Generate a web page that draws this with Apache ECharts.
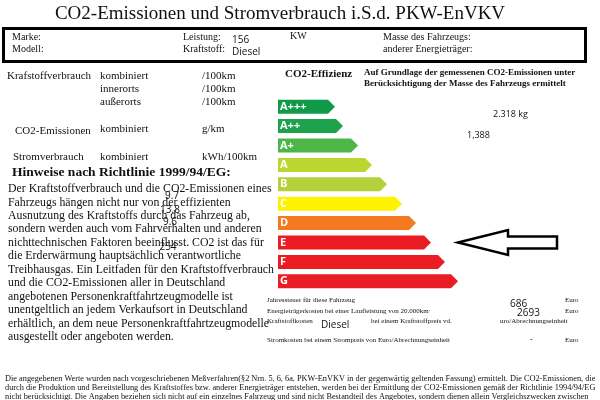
<!DOCTYPE html>
<html>
<head>
<meta charset="utf-8">
<script src="https://cdn.jsdelivr.net/npm/echarts@6/dist/echarts.min.js"></script>
<style>html,body{margin:0;padding:0;background:#fff}#c{width:600px;height:400px}</style>
</head>
<body>
<div id="c"></div>
<script>
// ---- data ----
const efficiencyClasses = ['A+++','A++','A+','A','B','C','D','E','F','G'];
const barLengths = [57, 65, 80, 94, 109, 124, 138, 153, 167, 180];
const vehicleClass = 'E';
const arrowSpan = [180, 279];
const fuelValues = ['9.7', '13.8', '9.6', '254'];
const leistung = '156';
const kraftstoff = 'Diesel';
const co2Mass = '2.318 kg';
const co2Value = '1,388';
const jahressteuer = '686';
const energiekosten = '2693';

const classColors = ['#11994a','#1fa24c','#4cb748','#bdd531','#b4d03a','#fff200','#f37a21','#ec1c24','#ec1c24','#ec1c24'];

const serif = '"Liberation Serif", "Times New Roman", serif';
const sans = '"Open Sans", "DejaVu Sans", sans-serif';

function t(x, y, text, size, opts) {
  opts = opts || {};
  const st = {
    text: text, x: 0, y: 0,
    font: (opts.bold ? 'bold ' : '') + size + 'px ' + (opts.family || serif),
    fill: opts.color || '#111',
    textAlign: opts.align || 'left',
    textVerticalAlign: opts.valign || 'middle'
  };
  if (opts.lineHeight) st.lineHeight = opts.lineHeight;
  if (opts.bg) { st.backgroundColor = opts.bg; st.padding = [0, 1]; }
  return {type: 'text', x: x, y: y, silent: true, z: opts.z || 10, style: st};
}

const hinweise = [
  'Der Kraftstoffverbrauch und die CO2-Emissionen eines',
  'Fahrzeugs hängen nicht nur von der effizienten',
  'Ausnutzung des Kraftstoffs durch das Fahrzeug ab,',
  'sondern werden auch vom Fahrverhalten und anderen',
  'nichttechnischen Faktoren beeinflusst. CO2 ist das für',
  'die Erderwärmung hauptsächlich verantwortliche',
  'Treibhausgas. Ein Leitfaden für den Kraftstoffverbrauch',
  'und die CO2-Emissionen aller in Deutschland',
  'angebotenen Personenkraftfahrtzeugmodelle ist',
  'unentgeltlich an jedem Verkaufsort in Deutschland',
  'erhältlich, an dem neue Personenkraftfahrtzeugmodelle',
  'ausgestellt oder angeboten werden.'
];

const footnote = [
  'Die angegebenen Werte wurden nach vorgeschriebenen Meßverfahren(§2 Nrn. 5, 6, 6a, PKW-EnVKV in der gegenwärtig geltenden Fassung) ermittelt. Die CO2-Emissionen, die',
  'durch die Produktion und Bereitstellung des Kraftstoffes bzw. anderer Energieträger entstehen, werden bei der Ermittlung der CO2-Emissionen gemäß der Richtlinie 1994/94/EG',
  'nicht berücksichtigt. Die Angaben beziehen sich nicht auf ein einzelnes Fahrzeug und sind nicht Bestandteil des Angebotes, sondern dienen allein Vergleichszwecken zwischen'
];

const graphics = [
  t(280, 14, 'CO2-Emissionen und Stromverbrauch i.S.d. PKW-EnVKV', 19, {align: 'center'}),
  {type: 'rect', silent: true, z: 5, shape: {x: 3.5, y: 28.5, width: 582, height: 33}, style: {fill: '#fff', stroke: '#000', lineWidth: 3}},
  t(12, 37, 'Marke:', 10), t(12, 49, 'Modell:', 10),
  t(183, 37, 'Leistung:', 10), t(183, 49, 'Kraftstoff:', 10),
  t(232, 40, leistung, 10, {family: sans}), t(232, 52, kraftstoff, 10, {family: sans}),
  t(290, 36, 'KW', 10),
  t(383, 37, 'Masse des Fahrzeugs:', 10), t(383, 49, 'anderer Energieträger:', 10),

  t(7, 76, 'Krafstoffverbrauch', 11), t(100, 76, 'kombiniert', 11), t(202, 76, '/100km', 11),
  t(100, 89, 'innerorts', 11), t(202, 89, '/100km', 11),
  t(100, 102, 'außerorts', 11), t(202, 102, '/100km', 11),
  t(15, 131, 'CO2-Emissionen', 11), t(100, 129, 'kombiniert', 11), t(202, 129, 'g/km', 11),
  t(13, 157, 'Stromverbrauch', 11), t(100, 157, 'kombiniert', 11), t(202, 157, 'kWh/100km', 11),

  t(12, 173, 'Hinweise nach Richtlinie 1999/94/EG:', 13.5, {bold: true}),
  t(8, 182.3, hinweise.join('\n'), 11.8, {lineHeight: 13.45, valign: 'top'}),
  t(172, 196, fuelValues[0], 10, {family: sans, align: 'center', z: 11}),
  t(170, 210, fuelValues[1], 10, {family: sans, align: 'center', z: 11}),
  t(170, 222, fuelValues[2], 10, {family: sans, align: 'center', z: 11}),
  t(168, 247, fuelValues[3], 10, {family: sans, align: 'center', z: 11}),

  t(285, 74, 'CO2-Effizienz', 11, {bold: true}),
  t(364, 73, 'Auf Grundlage der gemessenen CO2-Emissionen unter', 9, {bold: true}),
  t(364, 84, 'Berücksichtigung der Masse des Fahrzeugs ermittelt', 9, {bold: true}),
  t(493, 114, co2Mass, 9, {family: sans}),
  t(467, 135, co2Value, 9, {family: sans}),

  t(267, 300, 'Jahressteuer für diese Fahrzeug', 7),
  t(267, 311, 'Energieträgerkosten bei einer Laufleistung von 20.000km·', 7),
  t(267, 321, 'Kraftstoffkosten', 7),
  t(371, 321, 'bei einem Kraftstoffpreis vd.', 7),
  t(320, 325, kraftstoff, 10, {family: sans, bg: '#fff', z: 11}),
  t(500, 321, 'uro/Abrechnungseinheit', 7),
  t(510, 304, jahressteuer, 10, {family: sans}),
  t(517, 313, energiekosten, 10, {family: sans}),
  t(565, 300, 'Euro', 7), t(565, 311, 'Euro', 7),
  t(267, 340, 'Stromkosten bei einem Strompreis von Euro/Abrechnungseinheit', 7),
  t(530, 340, '-', 8), t(565, 340, 'Euro', 7),

  t(5, 374.5, footnote.join('\n'), 8.3, {lineHeight: 9, valign: 'top'})
];

const chart = echarts.init(document.getElementById('c'), null, {renderer: 'canvas'});
chart.setOption({
  animation: false,
  backgroundColor: '#fff',
  grid: {left: 278, top: 97, width: 300, height: 194},
  xAxis: {type: 'value', min: 0, max: 300, show: false},
  yAxis: {type: 'category', data: efficiencyClasses, inverse: true, show: false},
  graphic: graphics,
  series: [
    {
      type: 'custom',
      data: barLengths.map((v, i) => [v, i]),
      renderItem: function (params, api) {
        const i = api.value(1);
        const start = api.coord([0, i]);
        const end = api.coord([api.value(0), i]);
        const h = 14;
        const tip = 7;
        const y0 = start[1] - h / 2, y1 = start[1] + h / 2;
        return {
          type: 'group',
          children: [
            {type: 'polygon', shape: {points: [[start[0], y0], [end[0] - tip, y0], [end[0], start[1]], [end[0] - tip, y1], [start[0], y1]]},
             style: {fill: classColors[i]}},
            {type: 'text', style: {text: efficiencyClasses[i], x: start[0] + 2, y: start[1], textVerticalAlign: 'middle',
             font: 'bold 11px ' + sans, fill: '#fff'}}
          ]
        };
      }
    },
    {
      type: 'custom',
      data: [[arrowSpan[0], arrowSpan[1], vehicleClass]],
      renderItem: function (params, api) {
        const cat = efficiencyClasses.indexOf(vehicleClass);
        const tipP = api.coord([api.value(0), cat]);
        const tailP = api.coord([api.value(1), cat]);
        const cy = tipP[1];
        const hx = tipP[0] + 50;
        return {
          type: 'polygon',
          shape: {points: [[tipP[0], cy], [hx, cy - 12.5], [hx, cy - 6], [tailP[0], cy - 6], [tailP[0], cy + 6], [hx, cy + 6], [hx, cy + 12.5]]},
          style: {fill: '#fff', stroke: '#000', lineWidth: 2.5, lineJoin: 'miter'}
        };
      }
    }
  ]
});
</script>
</body>
</html>
